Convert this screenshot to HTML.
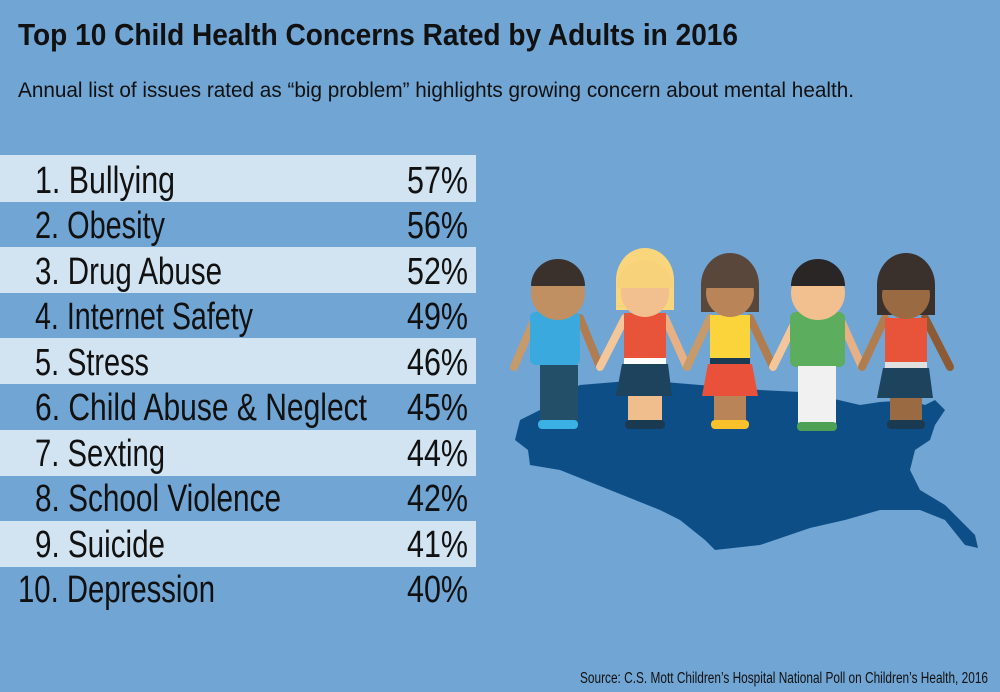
<!DOCTYPE html>
<html><head><meta charset="utf-8"><style>
html,body{margin:0;padding:0;background:#70a5d4;}
svg{display:block}
text{font-family:"Liberation Sans Narrow","Liberation Sans",sans-serif;}
</style></head><body>
<svg width="1000" height="692" viewBox="0 0 1000 692" xmlns="http://www.w3.org/2000/svg">
<rect width="1000" height="692" fill="#70a5d4"/>
<text x="18" y="45" font-size="31" font-weight="bold" fill="#111" textLength="720" lengthAdjust="spacingAndGlyphs">Top 10 Child Health Concerns Rated by Adults in 2016</text>
<text x="18" y="97" font-size="21" fill="#111" textLength="836" lengthAdjust="spacingAndGlyphs">Annual list of issues rated as “big problem” highlights growing concern about mental health.</text>
<g fill="#d2e3f2">
<rect x="0" y="155" width="476" height="47"/><rect x="0" y="247" width="476" height="46"/><rect x="0" y="338" width="476" height="46"/><rect x="0" y="430" width="476" height="46"/><rect x="0" y="521" width="476" height="46"/>
</g>
<g font-size="38" fill="#111">
<text x="35" y="193" textLength="140" lengthAdjust="spacingAndGlyphs">1. Bullying</text>
<text x="35" y="238" textLength="130" lengthAdjust="spacingAndGlyphs">2. Obesity</text>
<text x="35" y="284" textLength="187" lengthAdjust="spacingAndGlyphs">3. Drug Abuse</text>
<text x="35" y="329" textLength="218" lengthAdjust="spacingAndGlyphs">4. Internet Safety</text>
<text x="35" y="375" textLength="114" lengthAdjust="spacingAndGlyphs">5. Stress</text>
<text x="35" y="420" textLength="332" lengthAdjust="spacingAndGlyphs">6. Child Abuse &amp; Neglect</text>
<text x="35" y="466" textLength="130" lengthAdjust="spacingAndGlyphs">7. Sexting</text>
<text x="35" y="511" textLength="246" lengthAdjust="spacingAndGlyphs">8. School Violence</text>
<text x="35" y="557" textLength="130" lengthAdjust="spacingAndGlyphs">9. Suicide</text>
<text x="18" y="602" textLength="197" lengthAdjust="spacingAndGlyphs">10. Depression</text>
<text x="407" y="193" textLength="61" lengthAdjust="spacingAndGlyphs">57%</text>
<text x="407" y="238" textLength="61" lengthAdjust="spacingAndGlyphs">56%</text>
<text x="407" y="284" textLength="61" lengthAdjust="spacingAndGlyphs">52%</text>
<text x="407" y="329" textLength="61" lengthAdjust="spacingAndGlyphs">49%</text>
<text x="407" y="375" textLength="61" lengthAdjust="spacingAndGlyphs">46%</text>
<text x="407" y="420" textLength="61" lengthAdjust="spacingAndGlyphs">45%</text>
<text x="407" y="466" textLength="61" lengthAdjust="spacingAndGlyphs">44%</text>
<text x="407" y="511" textLength="61" lengthAdjust="spacingAndGlyphs">42%</text>
<text x="407" y="557" textLength="61" lengthAdjust="spacingAndGlyphs">41%</text>
<text x="407" y="602" textLength="61" lengthAdjust="spacingAndGlyphs">40%</text>
</g>
<!-- map -->
<polygon fill="#0e4e87" points="580,385 640,380 700,385 760,390 800,392 830,398 860,405 880,402 910,400 925,405 935,400 945,410 935,425 930,440 915,450 910,470 920,490 945,505 975,535 978,548 965,545 945,520 920,510 880,510 845,520 810,528 760,545 715,550 705,540 680,520 660,510 610,490 560,470 530,465 528,450 515,440 520,420 540,410 560,395"/>
<!-- arms -->
<g stroke-linecap="round" stroke-width="8" fill="none">
<path d="M535,318 L514,367" stroke="#c69a6b"/>
<path d="M580,318 L600,367" stroke="#b07d50"/>
<path d="M625,318 L600,367" stroke="#f4c79a"/>
<path d="M665,318 L687,367" stroke="#e7b185"/>
<path d="M710,318 L687,367" stroke="#c69a6b"/>
<path d="M750,318 L773,367" stroke="#b07d50"/>
<path d="M797,318 L773,367" stroke="#f4c79a"/>
<path d="M840,318 L862,367" stroke="#e7b185"/>
<path d="M885,318 L862,367" stroke="#b07d50"/>
<path d="M925,318 L950,367" stroke="#8c5a35"/>
</g>
<!-- kid1 -->
<g>
<rect x="530" y="312" width="50" height="53" rx="6" fill="#3aa9de"/>
<rect x="540" y="365" width="38" height="58" fill="#234f68"/>
<rect x="538" y="420" width="40" height="9" rx="4" fill="#3ab0e5"/>
<circle cx="558" cy="293" r="27" fill="#c08f62"/>
<path d="M531,286 A27,27 0 0 1 585,286 Z" fill="#3a312c"/>
</g>
<!-- kid2 -->
<g>
<path d="M616,280 A29,32 0 0 1 674,280 L674,310 L616,310Z" fill="#f9d57b"/>
<rect x="624" y="313" width="42" height="45" fill="#e8543a"/>
<rect x="624" y="358" width="42" height="6" fill="#fff"/>
<polygon points="622,364 668,364 672,396 616,396" fill="#1e435c"/>
<rect x="628" y="396" width="34" height="27" fill="#f0bd8c"/>
<rect x="625" y="420" width="40" height="9" rx="4" fill="#1a3a52"/>
<circle cx="645" cy="293" r="24" fill="#f2c08e"/>
<path d="M617,288 A28,28 0 0 1 673,288 Z" fill="#f7d27a"/>
</g>
<!-- kid3 -->
<g>
<path d="M701,285 A29,32 0 0 1 759,285 L759,312 L701,312Z" fill="#5a473c"/>
<rect x="710" y="315" width="40" height="45" fill="#fbd33a"/>
<rect x="710" y="358" width="40" height="6" fill="#1b3b53"/>
<polygon points="708,364 752,364 758,396 702,396" fill="#e9513a"/>
<rect x="714" y="396" width="32" height="27" fill="#b88458"/>
<rect x="711" y="420" width="38" height="9" rx="4" fill="#f9c22a"/>
<circle cx="730" cy="293" r="24" fill="#b88458"/>
<path d="M702,288 A28,28 0 0 1 758,288 Z" fill="#5a473c"/>
</g>
<!-- kid4 -->
<g>
<rect x="790" y="312" width="55" height="55" rx="6" fill="#5cae5e"/>
<rect x="798" y="366" width="38" height="58" fill="#f1f1f1"/>
<rect x="797" y="422" width="40" height="9" rx="4" fill="#4ea055"/>
<circle cx="818" cy="293" r="27" fill="#f2c08e"/>
<path d="M791,286 A27,27 0 0 1 845,286 Z" fill="#2a2626"/>
</g>
<!-- kid5 -->
<g>
<path d="M877,285 A29,32 0 0 1 935,285 L935,315 L877,315Z" fill="#3a312c"/>
<rect x="885" y="318" width="42" height="44" fill="#e8543a"/>
<rect x="885" y="362" width="42" height="6" fill="#e0e0e0"/>
<polygon points="883,368 929,368 933,398 877,398" fill="#1e435c"/>
<rect x="890" y="398" width="32" height="25" fill="#9a6a42"/>
<rect x="887" y="420" width="38" height="9" rx="4" fill="#1a3a52"/>
<circle cx="906" cy="295" r="24" fill="#9a6a42"/>
<path d="M878,290 A28,28 0 0 1 934,290 Z" fill="#3a312c"/>
</g>
<text x="580" y="683" font-size="15.5" fill="#111" textLength="408" lengthAdjust="spacingAndGlyphs">Source: C.S. Mott Children’s Hospital National Poll on Children’s Health, 2016</text>
</svg>
</body></html>
